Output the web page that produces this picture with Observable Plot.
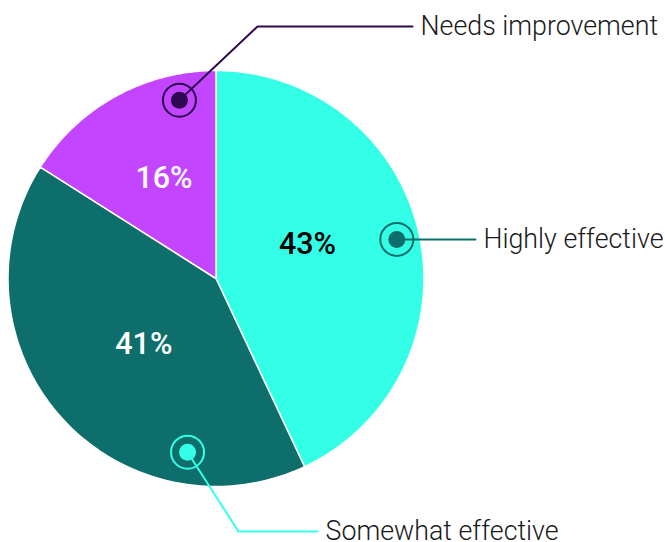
<!DOCTYPE html>
<html>
<head>
<meta charset="utf-8">
<script src="https://cdn.jsdelivr.net/npm/d3@7"></script>
<script src="https://cdn.jsdelivr.net/npm/@observablehq/plot@0.6"></script>
<style>
  html, body { margin: 0; padding: 0; background: #fff; }
  #chart { width: 665px; height: 542px; }
  svg { font-family: Roboto, sans-serif; }
</style>
</head>
<body>
<div id="chart"></div>
<script>
// ---- data ----
const categories = ["Highly effective", "Somewhat effective", "Needs improvement"];
const values = [43, 41, 16];
const sliceColors = ["#33ffe6", "#0d6e6b", "#c445ff"];
const labelColors = ["#000000", "#ffffff", "#ffffff"];
const calloutColors = ["#0d6e6b", "#33ffe6", "#2e0950"];

// ---- layout ----
const W = 665, H = 542;
const cx = 215.5, cy = 278, R = 208;
const labelAngles = [69.6, 227.6, 332.6];    // degrees clockwise from top
const labelRadii = [97.6, 97.8, 113];
const markerAngles = [77.8, 189.3, 348.4];
const markerRadii = [185, 176, 182];
const elbows = [null, [238, 531], [257, 26]];
const ends = [[475, 239], [317, 531], [412, 26]];

const pie = d3.pie().sort(null).value(d => d.value);
const rows = categories.map((c, i) => ({category: c, value: values[i], i}));
const arcs = pie(rows);

// slice polygons
const slicePts = [];
arcs.forEach(a => {
  const n = 120;
  slicePts.push({k: a.data.category, x: cx, y: cy, i: a.data.i});
  for (let j = 0; j <= n; j++) {
    const t = a.startAngle + (a.endAngle - a.startAngle) * j / n;
    slicePts.push({k: a.data.category, x: cx + R * Math.sin(t), y: cy - R * Math.cos(t), i: a.data.i});
  }
  slicePts.push({k: a.data.category, x: cx, y: cy, i: a.data.i});
});

// percent labels
const pctLabels = arcs.map(a => {
  const i = a.data.i;
  const t = labelAngles[i] * Math.PI / 180;
  return {text: a.data.value + "%", x: cx + labelRadii[i] * Math.sin(t), y: cy - labelRadii[i] * Math.cos(t), i};
});

// callouts
const markers = categories.map((c, i) => {
  const t = markerAngles[i] * Math.PI / 180;
  return {category: c, x: cx + markerRadii[i] * Math.sin(t), y: cy - markerRadii[i] * Math.cos(t), i};
});
const leaderPts = [];
markers.forEach((m, i) => {
  leaderPts.push({k: m.category, x: m.x, y: m.y, i});
  if (elbows[i]) leaderPts.push({k: m.category, x: elbows[i][0], y: elbows[i][1], i});
  leaderPts.push({k: m.category, x: ends[i][0], y: ends[i][1], i});
});
const calloutText = categories.map((c, i) => ({text: c, x: ends[i][0] + 8, y: ends[i][1], i}));

const chart = Plot.plot({
  width: W, height: H,
  margin: 0,
  x: {domain: [0, W], range: [0, W], axis: null},
  y: {domain: [0, H], range: [0, H], axis: null},
  marks: [
    Plot.line(slicePts, {x: "x", y: "y", z: "k", fill: d => sliceColors[d.i], stroke: "white", strokeWidth: 1.5, curve: "linear-closed"}),
    Plot.text(pctLabels, {x: "x", y: "y", text: "text", fill: d => labelColors[d.i], fontSize: 30.5, fontWeight: 500, fontFamily: "Roboto", lineAnchor: "middle"}),
    Plot.line(leaderPts, {x: "x", y: "y", z: "k", stroke: d => calloutColors[d.i], strokeWidth: 2}),
    Plot.dot(markers, {x: "x", y: "y", r: 16.5, stroke: d => calloutColors[d.i], strokeWidth: 2, fill: "none"}),
    Plot.dot(markers, {x: "x", y: "y", r: 8.5, fill: d => calloutColors[d.i], stroke: "none"}),
    Plot.text(calloutText, {x: "x", y: "y", text: "text", fill: "#1a1a1a", fontSize: 26.8, fontWeight: 300, fontFamily: "Roboto", textAnchor: "start", lineAnchor: "middle"})
  ]
});
document.getElementById("chart").appendChild(chart);
</script>
</body>
</html>
